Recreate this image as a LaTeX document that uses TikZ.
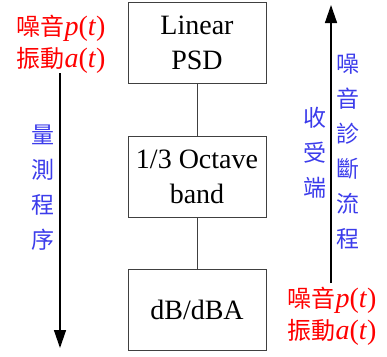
\documentclass[tikz,border=0pt]{standalone}
\usepackage{fontspec}
\setmainfont{Liberation Serif}
\newfontfamily\cjk{Noto Sans CJK TC}
\usetikzlibrary{arrows.meta}
\definecolor{sigred}{RGB}{255,0,0}
\definecolor{stepblue}{RGB}{60,60,235}
\tikzset{
  procbox/.style={draw=black!75, line width=0.9pt, minimum width=138pt, minimum height=81pt,
    align=center, inner sep=0pt, font=\fontsize{28}{35}\selectfont},
  link/.style={draw=black!75, line width=1pt},
  flow/.style={draw=black, line width=1.4pt, -{Triangle[width=12pt,length=18pt]}},
  sigtext/.style={text=sigred, align=center, inner sep=0pt, font=\fontsize{28}{32}\selectfont},
  vlabel/.style={text=stepblue, align=center, inner sep=0pt, font=\cjk\fontsize{23}{35}\selectfont},
}
\newcommand{\sig}[2]{{\cjk\fontsize{24}{32}\selectfont #1}\textit{#2}(\textit{t})}
\begin{document}
\begin{tikzpicture}[x=1pt,y=-1pt]
  \useasboundingbox (0,0) rectangle (387,356);
  % processing chain
  \node[procbox] (psd) at (197,42.5) {Linear\\PSD};
  \node[procbox] (oct) at (197,176.5) {1/3 Octave\\band};
  \node[procbox] (db) at (197,310) {dB/dBA};
  \draw[link] (psd) -- (oct);
  \draw[link] (oct) -- (db);
  % measurement side
  \node[sigtext] (insig) at (61,44) {\sig{噪音}{p}\\\sig{振動}{a}};
  \coordinate (inend) at (60,348);
  \draw[flow] (60,73) -- (inend);
  \node[vlabel] (meas) at (43,187.5) {量\\測\\程\\序};
  % receiving side
  \node[sigtext] (outsig) at (332,316.5) {\sig{噪音}{p}\\\sig{振動}{a}};
  \coordinate (outend) at (331,5);
  \draw[flow] (331,283) -- (outend);
  \node[vlabel] (recv) at (315,152.5) {收\\受\\端};
  \node[vlabel] (diag) at (348,151.5) {噪\\音\\診\\斷\\流\\程};
\end{tikzpicture}
\end{document}
